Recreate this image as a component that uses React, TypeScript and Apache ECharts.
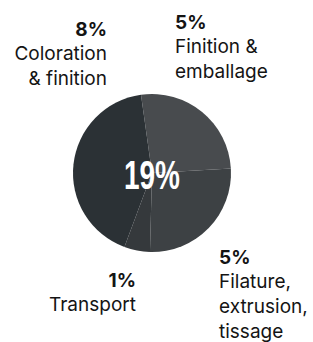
import React, { useEffect, useRef } from "react";
import * as echarts from "echarts";

// ---- data ----
const categories = [
  "Finition & emballage",
  "Filature, extrusion, tissage",
  "Transport",
  "Coloration & finition",
];
const values = [5, 5, 1, 8];
const percentLabels = ["5%", "5%", "1%", "8%"];
const nameLines = [
  ["Finition &", "emballage"],
  ["Filature,", "extrusion,", "tissage"],
  ["Transport"],
  ["Coloration", "& finition"],
];
const totalLabel = "19%";

// ---- styles / layout ----
const sliceColors = ["#484b4e", "#3d4144", "#35393c", "#2b3135"];
const labelLayout = [
  { x: 175, y: 22, align: "left" },
  { x: 219, y: 257, align: "left" },
  { x: 136, y: 280, align: "right" },
  { x: 107, y: 29, align: "right" },
];
const LINE_H = 24.8;
const FONT = "Inter, 'Noto Sans', sans-serif";

export default function App() {
  const ref = useRef<HTMLDivElement>(null);
  useEffect(() => {
    if (!ref.current) return;
    const chart = echarts.init(ref.current, undefined, { renderer: "svg" });
    const graphics: any[] = [];
    categories.forEach((_, i) => {
      const L = labelLayout[i];
      graphics.push({
        type: "text",
        style: {
          x: L.x,
          y: L.y,
          text: percentLabels[i],
          align: L.align,
          verticalAlign: "middle",
          fill: "#141414",
          font: `bold 19px ${FONT}`,
        },
      });
      nameLines[i].forEach((line, j) => {
        graphics.push({
          type: "text",
          style: {
            x: L.x,
            y: L.y + LINE_H * (j + 1),
            text: line,
            align: L.align,
            verticalAlign: "middle",
            fill: "#141414",
            font: `19px ${FONT}`,
          },
        });
      });
    });
    graphics.push({
      type: "text",
      z: 100,
      x: 152,
      y: 175,
      scaleX: 0.7,
      style: {
        x: 0,
        y: 0,
        text: totalLabel,
        align: "center",
        verticalAlign: "middle",
        fill: "#ffffff",
        font: "bold 40px 'Liberation Sans', Arial, sans-serif",
      },
    });
    chart.setOption({
      animation: false,
      backgroundColor: "#ffffff",
      series: [
        {
          type: "pie",
          center: [152, 173],
          radius: 79,
          startAngle: 98,
          clockwise: true,
          label: { show: false },
          labelLine: { show: false },
          silent: true,
          data: categories.map((name, i) => ({
            name,
            value: values[i],
            itemStyle: { color: sliceColors[i], borderWidth: 0 },
          })),
        },
      ],
      graphic: graphics,
    });
    return () => chart.dispose();
  }, []);
  return (
    <div
      ref={ref}
      style={{ position: "fixed", left: 0, top: 0, width: 313, height: 342 }}
    />
  );
}
